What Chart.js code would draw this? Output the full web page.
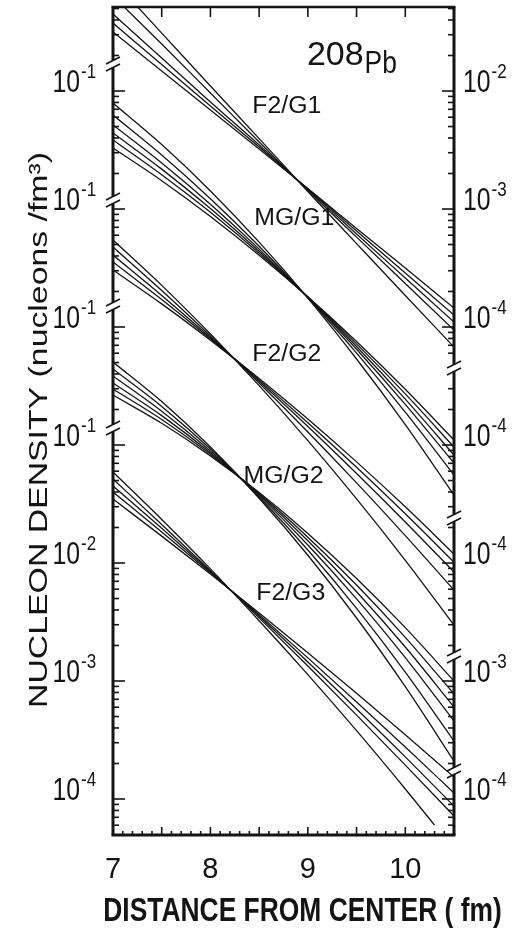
<!DOCTYPE html>
<html>
<head>
<meta charset="utf-8">
<script src="https://cdn.jsdelivr.net/npm/chart.js@4.4.1/dist/chart.umd.min.js"></script>
<style>
html,body{margin:0;padding:0;background:#fff;}
canvas{display:block;}
</style>
</head>
<body>
<canvas id="c" width="512" height="928"></canvas>
<script>
// ---------- data ----------
// distance from centre, fm
const R = [7.0, 7.5, 8.0, 8.5, 9.0, 9.5, 10.0, 10.5];
const R_SHORT = [7.0, 7.5, 8.0, 8.5, 9.0, 9.5, 10.0, 10.3];

// log10 of nucleon density (nucleons/fm^3), one array per curve
const F2G1_A = [-1.060, -1.509, -1.958, -2.403, -2.852, -3.293, -3.733, -4.170];
const F2G1_B = [-1.195, -1.602, -2.017, -2.432, -2.843, -3.238, -3.632, -4.026];
const F2G1_C = [-1.348, -1.721, -2.093, -2.458, -2.835, -3.212, -3.585, -3.958];
const F2G1_D = [-1.424, -1.776, -2.127, -2.475, -2.831, -3.187, -3.543, -3.899];
const F2G1_E = [-1.500, -1.831, -2.161, -2.492, -2.827, -3.165, -3.500, -3.839];

const MGG1_A = [-1.102, -1.454, -1.847, -2.281, -2.755, -3.271, -3.827, -4.424];
const MGG1_B = [-1.204, -1.542, -1.913, -2.316, -2.752, -3.221, -3.721, -4.254];
const MGG1_C = [-1.288, -1.610, -1.960, -2.340, -2.749, -3.188, -3.656, -4.153];
const MGG1_D = [-1.356, -1.662, -1.996, -2.358, -2.748, -3.165, -3.611, -4.085];
const MGG1_E = [-1.415, -1.709, -2.028, -2.374, -2.746, -3.143, -3.567, -4.017];
const MGG1_F = [-1.483, -1.760, -2.063, -2.391, -2.744, -3.123, -3.528, -3.958];

const F2G2_A = [-1.263, -1.647, -2.059, -2.497, -2.963, -3.457, -3.977, -4.526];
const F2G2_B = [-1.322, -1.691, -2.076, -2.475, -2.890, -3.321, -3.768, -4.229];
const F2G2_C = [-1.390, -1.732, -2.089, -2.460, -2.843, -3.241, -3.652, -4.077];
const F2G2_D = [-1.449, -1.767, -2.100, -2.448, -2.811, -3.189, -3.583, -3.992];
const F2G2_E = [-1.517, -1.804, -2.111, -2.436, -2.780, -3.143, -3.524, -3.924];

const MGG2_A = [-1.297, -1.632, -2.017, -2.451, -2.934, -3.466, -4.048, -4.678];
const MGG2_B = [-1.356, -1.673, -2.034, -2.440, -2.890, -3.385, -3.925, -4.509];
const MGG2_C = [-1.415, -1.714, -2.051, -2.429, -2.847, -3.304, -3.802, -4.339];
const MGG2_D = [-1.475, -1.751, -2.066, -2.420, -2.812, -3.243, -3.712, -4.221];
const MGG2_E = [-1.526, -1.784, -2.079, -2.411, -2.781, -3.187, -3.630, -4.110];
const MGG2_F = [-1.577, -1.816, -2.092, -2.403, -2.749, -3.131, -3.548, -4.000];

const F2G3_A = [-1.229, -1.631, -2.050, -2.489, -2.946, -3.421, -3.915, -4.221]; // ends at 10.3 fm
const F2G3_B = [-1.288, -1.673, -2.065, -2.465, -2.873, -3.289, -3.713, -4.144];
const F2G3_C = [-1.348, -1.706, -2.074, -2.452, -2.839, -3.237, -3.643, -4.060];
const F2G3_D = [-1.399, -1.737, -2.083, -2.439, -2.804, -3.177, -3.559, -3.949];
const F2G3_E = [-1.458, -1.772, -2.094, -2.423, -2.760, -3.104, -3.455, -3.814];

const GROUP_NAMES = ['F2/G1', 'MG/G1', 'F2/G2', 'MG/G2', 'F2/G3'];
const GROUP_SHIFT = [4, 3, 2, 1, 0];          // decades each family is displaced upward
const GROUP_CURVES = [
  [F2G1_A, F2G1_B, F2G1_C, F2G1_D, F2G1_E],
  [MGG1_A, MGG1_B, MGG1_C, MGG1_D, MGG1_E, MGG1_F],
  [F2G2_A, F2G2_B, F2G2_C, F2G2_D, F2G2_E],
  [MGG2_A, MGG2_B, MGG2_C, MGG2_D, MGG2_E, MGG2_F],
  [F2G3_A, F2G3_B, F2G3_C, F2G3_D, F2G3_E]
];
const CURVE_R = new Map([[F2G3_A, R_SHORT]]);

// axes
const X_TICKS = [7, 8, 9, 10];
const Y_DECADES = [2, 1, 0, -1, -2, -3, -4];                 // display decades carrying labels
const LEFT_EXP  = ['-1', '-1', '-1', '-1', '-2', '-3', '-4'];
const RIGHT_EXP = ['-2', '-3', '-4', '-4', '-4', '-3', '-4'];
const LEFT_BREAKS  = [2.229, 1.076, 0.178, -0.856];          // display decades of axis breaks
const RIGHT_BREAKS = [-0.347, -1.619, -2.788, -3.763];
const Y_LOG_MIN = -4.305, Y_LOG_MAX = 2.712;
const X_MIN = 7.0, X_MAX = 10.5;

// annotation anchors (distance fm, display decade)
const LABEL_R = [8.43, 8.45, 8.43, 8.34, 8.47];
const LABEL_U = [1.814, 0.865, -0.288, -1.322, -2.313];
const NUCLEUS = {mass: '208', sym: 'Pb', r: 8.99, u: 2.22, uSym: 2.153};

const X_TITLE = 'DISTANCE FROM CENTER ( fm)';
const Y_TITLE = 'NUCLEON DENSITY (nucleons /fm\u00B3)';

// ---------- drawing ----------
const INK = '#141414';
const FONT = '"Liberation Sans", Arial, sans-serif';

const datasets = [];
GROUP_CURVES.forEach((curves, g) => {
  curves.forEach(v => {
    const rs = CURVE_R.get(v) || R;
    datasets.push({
      label: GROUP_NAMES[g],
      data: v.map((lv, i) => ({x: rs[i], y: Math.pow(10, lv + GROUP_SHIFT[g])})),
      borderColor: INK,
      borderWidth: 1.3,
      pointRadius: 0,
      fill: false,
      cubicInterpolationMode: 'monotone'
    });
  });
});

function txt(ctx, s, x, y, o) {
  ctx.save();
  ctx.translate(x, y);
  if (o.rot) ctx.rotate(o.rot);
  ctx.scale(o.sx || 1, 1);
  ctx.font = (o.weight || 'normal') + ' ' + o.size + 'px ' + FONT;
  ctx.textAlign = o.align || 'left';
  ctx.textBaseline = 'alphabetic';
  ctx.fillStyle = INK;
  ctx.fillText(s, 0, 0);
  const w = ctx.measureText(s).width * (o.sx || 1);
  ctx.restore();
  return w;
}

const framePlugin = {
  id: 'frame',
  afterDraw(chart) {
    const {ctx, chartArea: a, scales} = chart;
    const xs = scales.x, ys = scales.y;
    const py = u => ys.getPixelForValue(Math.pow(10, u));
    const seg = (x1, y1, x2, y2) => { ctx.beginPath(); ctx.moveTo(x1, y1); ctx.lineTo(x2, y2); ctx.stroke(); };
    ctx.save();
    ctx.strokeStyle = INK;
    ctx.lineCap = 'butt';

    // top & bottom frame
    ctx.lineWidth = 2.5; seg(a.left - 1.5, a.top, a.right + 1.5, a.top);
    ctx.lineWidth = 3;   seg(a.left - 1.5, a.bottom, a.right + 1.5, a.bottom);

    // broken vertical axes
    const gap = 3.5;
    function brokenAxis(x, breaks, dir) {
      const yb = breaks.map(py).sort((p, q) => p - q);
      ctx.lineWidth = 3;
      let y0 = a.top;
      yb.forEach(b => { seg(x, y0, x, b - gap); y0 = b + gap; });
      seg(x, y0, x, a.bottom);
      ctx.lineWidth = 1.8;
      yb.forEach(b => {
        seg(x - 7, b - gap + 3.5, x + 7, b - gap - 3.5);
        seg(x - 7, b + gap + 3.5, x + 7, b + gap - 3.5);
      });
      // log ticks
      ctx.lineWidth = 1.6;
      for (let k = -5; k <= 3; k++) {
        for (let m = 1; m <= 9; m++) {
          const u = k + Math.log10(m);
          if (u <= Y_LOG_MIN + 0.01 || u >= Y_LOG_MAX - 0.01) continue;
          const y = py(u);
          if (yb.some(b => Math.abs(b - y) < 7)) continue;
          const len = m === 1 ? 12 : 6;
          seg(x, y, x + dir * len, y);
        }
      }
    }
    brokenAxis(a.left, LEFT_BREAKS, 1);
    brokenAxis(a.right, RIGHT_BREAKS, -1);

    // top ticks
    ctx.lineWidth = 1.6;
    for (let i = 15; i <= 20; i++) {
      const x = xs.getPixelForValue(i / 2);
      seg(x, a.top, x, a.top + 10);
    }
    // bottom ticks
    for (let i = 71; i <= 104; i++) {
      const x = xs.getPixelForValue(i / 10);
      const len = i % 5 === 0 ? 8 : 4;
      seg(x, a.bottom, x, a.bottom - len);
    }
    ctx.restore();

    // y tick labels (10 with exponent)
    ys.ticks.forEach((t, i) => {
      const y = ys.getPixelForValue(t.value);
      txt(ctx, '10', a.left - 33, y + 0.5, {size: 31, sx: 0.8, align: 'right'});
      txt(ctx, LEFT_EXP[i], a.left - 32, y - 13, {size: 20, sx: 0.85});
      const w = txt(ctx, '10', a.right + 9, y + 0.5, {size: 31, sx: 0.8});
      txt(ctx, RIGHT_EXP[i], a.right + 10 + w, y - 13, {size: 20, sx: 0.85});
    });

    // family labels
    GROUP_NAMES.forEach((n, g) => {
      txt(ctx, n, xs.getPixelForValue(LABEL_R[g]), py(LABEL_U[g]), {size: 23, sx: 1.08});
    });
    // nucleus label
    const nx = xs.getPixelForValue(NUCLEUS.r);
    const w208 = txt(ctx, NUCLEUS.mass, nx, py(NUCLEUS.u), {size: 34});
    txt(ctx, NUCLEUS.sym, nx + w208 + 1, py(NUCLEUS.uSym), {size: 31, sx: 0.85});

    // axis titles
    txt(ctx, X_TITLE, (a.left + a.right) / 2 + 19, 921, {size: 33, weight: 'bold', sx: 0.8, align: 'center'});
    txt(ctx, Y_TITLE, 47, 430, {size: 26, sx: 1.3, align: 'center', rot: -Math.PI / 2});
  }
};

new Chart(document.getElementById('c'), {
  type: 'line',
  data: {datasets},
  options: {
    responsive: false,
    animation: false,
    devicePixelRatio: 1,
    events: [],
    layout: {padding: {top: 7, left: 0, right: 0, bottom: 0}},
    plugins: {legend: {display: false}, tooltip: {enabled: false}},
    scales: {
      x: {
        type: 'linear', min: X_MIN, max: X_MAX,
        grid: {display: false}, border: {display: false},
        afterBuildTicks: s => { s.ticks = X_TICKS.map(v => ({value: v})); },
        ticks: {color: INK, font: {family: FONT, size: 29, lineHeight: 1}, padding: 12,
                maxRotation: 0, autoSkip: false, callback: v => String(v)},
        afterFit: s => { s.height = 93; }
      },
      y: {
        type: 'logarithmic', position: 'left',
        min: Math.pow(10, Y_LOG_MIN), max: Math.pow(10, Y_LOG_MAX),
        grid: {display: false}, border: {display: false},
        ticks: {display: false},
        afterBuildTicks: s => { s.ticks = Y_DECADES.map(u => ({value: Math.pow(10, u)})); },
        afterFit: s => { s.width = 113; }
      },
      y2: {
        type: 'logarithmic', position: 'right',
        min: Math.pow(10, Y_LOG_MIN), max: Math.pow(10, Y_LOG_MAX),
        grid: {display: false}, border: {display: false},
        ticks: {display: false},
        afterBuildTicks: s => { s.ticks = Y_DECADES.map(u => ({value: Math.pow(10, u)})); },
        afterFit: s => { s.width = 58; }
      }
    }
  },
  plugins: [framePlugin]
});
</script>
</body>
</html>
